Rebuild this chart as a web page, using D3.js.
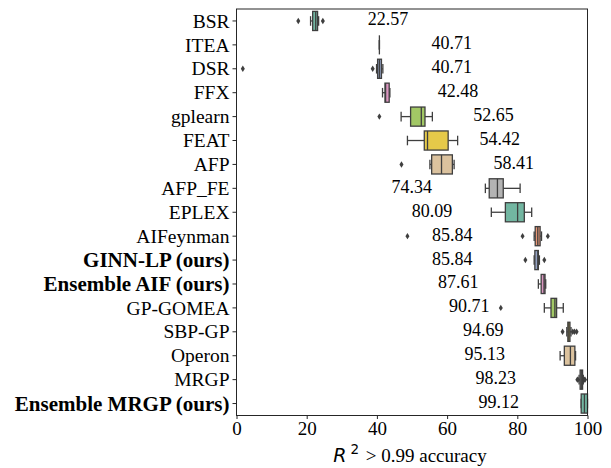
<!DOCTYPE html>
<html>
<head>
<meta charset="utf-8">
<script src="https://cdn.jsdelivr.net/npm/d3@7"></script>
<style>
  body { margin: 0; background: #fff; }
  text { font-family: "Liberation Serif", "Times New Roman", serif; fill: #000; }
</style>
</head>
<body>
<div id="chart"></div>
<script>
const methods = ["BSR", "ITEA", "DSR", "FFX", "gplearn", "FEAT", "AFP", "AFP_FE", "EPLEX",
  "AIFeynman", "GINN-LP (ours)", "Ensemble AIF (ours)", "GP-GOMEA", "SBP-GP", "Operon",
  "MRGP", "Ensemble MRGP (ours)"];
const oursMethods = ["GINN-LP (ours)", "Ensemble AIF (ours)", "Ensemble MRGP (ours)"];
const medians = [22.57, 40.71, 40.71, 42.48, 52.65, 54.42, 58.41, 74.34, 80.09, 85.84, 85.84, 87.61, 90.71, 94.69, 95.13, 98.23, 99.12];
const q1 = [21.7, 40.71, 40.2, 42.3, 49.6, 53.5, 55.6, 72.0, 76.6, 85.1, 85.0, 86.8, 89.6, 94.4, 93.4, 97.9, 98.2];
const q3 = [23.1, 40.71, 41.3, 43.5, 53.7, 60.3, 61.5, 76.0, 82.0, 86.5, 86.0, 87.9, 91.2, 95.0, 96.4, 98.6, 100];
const whiskerLow = [21.1, 40.71, 39.9, 41.6, 46.9, 48.7, 55.1, 70.9, 72.6, 84.8, 84.8, 86.0, 87.7, 94.1, 92.2, 97.6, 98.2];
const whiskerHigh = [23.4, 40.71, 41.7, 43.7, 55.8, 63.0, 62.0, 80.8, 84.1, 86.9, 86.3, 88.1, 93.1, 95.3, 96.6, 98.8, 100];
const outliers = [[17.6, 24.6], [], [1.8, 38.8], [], [40.7], [], [47.0], [], [], [48.7, 81.5, 88.7],
  [82.3, 87.7], [], [75.3], [92.9, 95.8, 96.3, 96.9], [], [97.1, 97.3, 98.9, 99.1, 99.3], []];
const xTicks = [0, 20, 40, 60, 80, 100];
const palette = ["#66c2a5", "#fc8d62", "#8da0cb", "#e78ac3", "#a6d854", "#ffd92f", "#e5c494", "#b3b3b3"];

const W = 611, H = 468;
const margin = { top: 9, right: 23.5, bottom: 52.5, left: 236.5 };
const width = W - margin.left - margin.right;
const height = H - margin.top - margin.bottom;
const lineColor = "#3f3f3f";
const serif = '"Liberation Serif", "Times New Roman", serif';

const rows = methods.map((name, i) => ({
  name,
  median: medians[i], q1: q1[i], q3: q3[i],
  lo: whiskerLow[i], hi: whiskerHigh[i],
  out: outliers[i],
  color: (() => { const c = d3.hsl(palette[i % palette.length]); c.s *= 0.75; return c.formatHex(); })()
}));

const svg = d3.select("#chart").append("svg")
  .attr("width", W).attr("height", H)
  .append("g")
  .attr("transform", `translate(${margin.left},${margin.top})`);

const x = d3.scaleLinear().domain([0, 100]).range([0, width]);
const y = d3.scaleBand().domain(methods).range([0, height]).padding(0);
const boxH = y.bandwidth() * 0.8;

const g = svg.selectAll("g.row").data(rows).join("g")
  .attr("class", "row")
  .attr("transform", d => `translate(0,${y(d.name) + y.bandwidth() / 2})`);

// whiskers
g.append("line").attr("x1", d => x(d.lo)).attr("x2", d => x(d.q1))
  .attr("stroke", lineColor).attr("stroke-width", 1.3);
g.append("line").attr("x1", d => x(d.q3)).attr("x2", d => x(d.hi))
  .attr("stroke", lineColor).attr("stroke-width", 1.3);
// caps
g.selectAll("line.cap").data(d => [d.lo, d.hi]).join("line")
  .attr("class", "cap")
  .attr("x1", v => x(v)).attr("x2", v => x(v))
  .attr("y1", -boxH / 4).attr("y2", boxH / 4)
  .attr("stroke", lineColor).attr("stroke-width", 1.3);
// boxes
g.append("rect")
  .attr("x", d => x(d.q1)).attr("y", -boxH / 2)
  .attr("width", d => x(d.q3) - x(d.q1)).attr("height", boxH)
  .attr("fill", d => d.color).attr("stroke", lineColor).attr("stroke-width", 1.3);
// medians
g.append("line").attr("x1", d => x(d.median)).attr("x2", d => x(d.median))
  .attr("y1", -boxH / 2).attr("y2", boxH / 2)
  .attr("stroke", lineColor).attr("stroke-width", 1.3);
// outliers (thin diamonds)
g.selectAll("path.flier").data(d => d.out).join("path")
  .attr("class", "flier")
  .attr("d", v => `M${x(v)},-3.2L${x(v) + 2},0L${x(v)},3.2L${x(v) - 2},0Z`)
  .attr("fill", lineColor);
// annotations: medians printed beside each box
g.append("text")
  .attr("x", d => x(d.median < 60 ? d.median + 20.6 : d.median - 24.4))
  .attr("y", 4.5)
  .attr("text-anchor", "middle")
  .style("font-size", "18px")
  .text(d => d.median.toFixed(2));

// frame
svg.append("rect").attr("width", width).attr("height", height)
  .attr("fill", "none").attr("stroke", "#262626").attr("stroke-width", 1);

// axes
const xAxis = svg.append("g").attr("transform", `translate(0,${height})`)
  .call(d3.axisBottom(x).tickValues(xTicks).tickSize(3.5).tickPadding(2.5));
const yAxis = svg.append("g")
  .call(d3.axisLeft(y).tickSize(4).tickPadding(3));
[xAxis, yAxis].forEach(a => {
  a.select(".domain").remove();
  a.selectAll(".tick line").attr("stroke", "#262626");
});
xAxis.selectAll("text").style("font-size", "19px")
  .style("font-family", serif).attr("fill", "#000");
yAxis.selectAll("text")
  .style("font-family", serif).attr("fill", "#000")
  .attr("dy", "0.34em")
  .style("font-size", d => oursMethods.includes(d) ? "21px" : "19.5px")
  .style("font-weight", d => oursMethods.includes(d) ? "bold" : "normal");

// x label
const xl = svg.append("text")
  .attr("x", width / 2 - 2).attr("y", height + 46)
  .attr("text-anchor", "middle")
  .style("font-size", "19px");
xl.append("tspan").style("font-family", '"DejaVu Sans", sans-serif').style("font-style", "italic").text("R");
xl.append("tspan").style("font-family", '"DejaVu Sans", sans-serif').style("font-size", "13.5px")
  .attr("dy", -7.5).attr("dx", 4).text("2");
xl.append("tspan").attr("dy", 7.5).attr("dx", 2).text(" > 0.99 accuracy");
</script>
</body>
</html>
